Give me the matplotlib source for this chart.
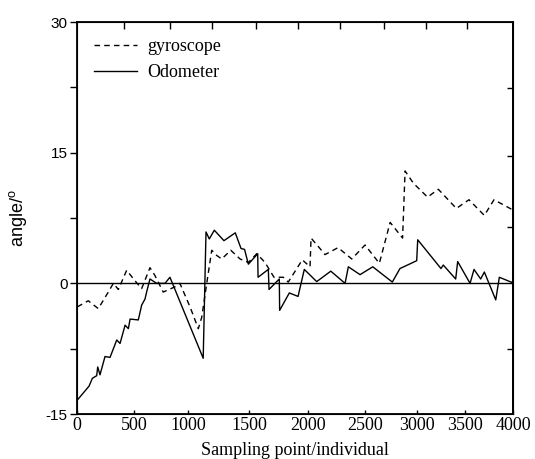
import numpy as np
import matplotlib
matplotlib.use("Agg")
import matplotlib.pyplot as plt

plt.rcParams['mathtext.fontset'] = 'custom'
plt.rcParams['mathtext.rm'] = 'Liberation Sans'

# odometer angle
odo_x = [0, 103, 132, 170, 179, 199, 243, 287, 346, 375, 419, 448, 463, 537, 568,
         599, 614, 645, 707, 784, 830, 1122, 1145, 1172, 1213, 1292, 1385, 1432,
         1461, 1492, 1571, 1574, 1661, 1667, 1754, 1757, 1839, 1913, 1966, 2074,
         2198, 2324, 2353, 2456, 2574, 2761, 2834, 2994, 3004, 3248, 3272, 3402,
         3423, 3552, 3593, 3662, 3700, 3818, 3855, 3987, 4000]
odo_y = [-13.4, -11.8, -10.9, -10.6, -9.6, -10.5, -8.4, -8.5, -6.5, -6.9, -4.8, -5.2,
         -4.1, -4.2, -2.5, -1.8, -1.0, 0.5, 0.0, 0.0, 0.7, -8.6, 5.9, 5.1, 6.1, 4.9,
         5.8, 4.0, 3.9, 2.2, 3.4, 0.7, 1.6, -0.7, 0.5, -3.1, -1.1, -1.5, 1.6, 0.2,
         1.4, 0.0, 1.9, 1.0, 1.9, 0.15, 1.7, 2.6, 5.0, 1.7, 2.1, 0.5, 2.5, 0.0, 1.6,
         0.5, 1.3, -1.9, 0.7, 0.1, 0.4]

# gyroscope angle
gyro_x = [0, 96, 184, 272, 316, 360, 433, 506, 568, 645, 691, 768, 876, 922, 1014,
          1082, 1110, 1151, 1192, 1233, 1274, 1348, 1424, 1492, 1563, 1633, 1709,
          1788, 1830, 1949, 2015, 2024, 2103, 2147, 2262, 2383, 2500, 2637, 2740,
          2859, 2883, 2962, 3107, 3220, 3409, 3541, 3700, 3800, 3983, 4000]
gyro_y = [-2.7, -2.0, -2.9, -1.0, 0.0, -0.7, 1.5, 0.3, -0.6, 1.8, 0.9, -1.0, -0.4,
          0.0, -2.7, -5.2, -3.9, 0.0, 3.8, 3.2, 2.8, 3.8, 2.8, 2.4, 3.4, 2.4, 0.7,
          0.7, 0.15, 2.7, 1.9, 5.2, 4.0, 3.3, 4.1, 2.8, 4.4, 2.3, 7.0, 5.2, 12.9,
          11.5, 9.9, 10.8, 8.6, 9.6, 7.8, 9.6, 8.5, 8.8]

x_ticks = [0, 500, 1000, 1500, 2000, 2500, 3000, 3500, 4000]
# the original x axis is not evenly spaced; where each tick sits (pixels from axis start)
x_tick_pos = [0, 57, 111, 172, 231, 287.7, 340, 387.7, 436]
top_ticks = [411, 827, 1194, 1560, 1914, 2281, 2683, 3094, 3521]
right_ticks = [22.4, 14.6, 6.5, -7.5]


def fwd(x):
    x = np.asarray(x, dtype=float)
    y = np.interp(x, x_ticks, x_tick_pos)
    lo = (x_tick_pos[1] - x_tick_pos[0]) / 500
    hi = (x_tick_pos[-1] - x_tick_pos[-2]) / 500
    y = np.where(x < 0, x * lo, y)
    y = np.where(x > 4000, x_tick_pos[-1] + (x - 4000) * hi, y)
    return y


def inv(p):
    p = np.asarray(p, dtype=float)
    x = np.interp(p, x_tick_pos, x_ticks)
    lo = 500 / (x_tick_pos[1] - x_tick_pos[0])
    hi = 500 / (x_tick_pos[-1] - x_tick_pos[-2])
    x = np.where(p < 0, p * lo, x)
    x = np.where(p > x_tick_pos[-1], 4000 + (p - x_tick_pos[-1]) * hi, x)
    return x


fig = plt.figure(figsize=(5.35, 4.59), dpi=100)
ax = fig.add_axes([0.1445, 0.098, 0.815, 0.854])
ax.set_xscale('function', functions=(fwd, inv))

ax.plot(gyro_x, gyro_y, color='k', lw=1.0, linestyle=(0, (4, 3)), label='gyroscope')
ax.plot(odo_x, odo_y, color='k', lw=1.0, label='Odometer')
ax.axhline(0, color='k', lw=1.0)

ax.set_xlim(0, 4000)
ax.set_ylim(-15, 30)
ax.set_xticks(x_ticks)
ax.set_xticklabels([str(t) for t in x_ticks], family='Liberation Serif', fontsize=13)
ax.set_yticks([-15, 0, 15, 30])
ax.set_yticks([-7.5, 7.5, 22.5], minor=True)
ax.set_yticklabels(['-15', '0', '15', '30'], family='Liberation Sans', fontsize=11)
ax.tick_params(axis='x', direction='in', length=3, width=1, pad=2)
ax.tick_params(axis='y', which='both', direction='out', length=5, width=1, pad=2)

for s in ax.spines.values():
    s.set_linewidth(1.3)

ax.set_xlabel('Sampling point/individual', family='Liberation Serif', fontsize=13, labelpad=6)
ax.set_ylabel(r'angle/$^\mathrm{o}$', family='Liberation Sans', fontsize=13, labelpad=12)

top = ax.twiny()
top.set_xscale('function', functions=(fwd, inv))
top.set_xlim(0, 4000)
top.set_xticks(top_ticks)
top.set_xticklabels([])
top.tick_params(direction='in', length=5, width=1)

right = ax.secondary_yaxis('right')
right.set_yticks(right_ticks)
right.set_yticklabels([])
right.tick_params(direction='in', length=4, width=1)
right.spines['right'].set_linewidth(1.3)

ax.legend(loc='upper left', frameon=False, prop={'family': 'Liberation Serif', 'size': 13},
          handlelength=2.4, handletextpad=0.55, labelspacing=0.5,
          borderaxespad=0.5, borderpad=0.4)

fig.savefig('out.png', dpi=100)
